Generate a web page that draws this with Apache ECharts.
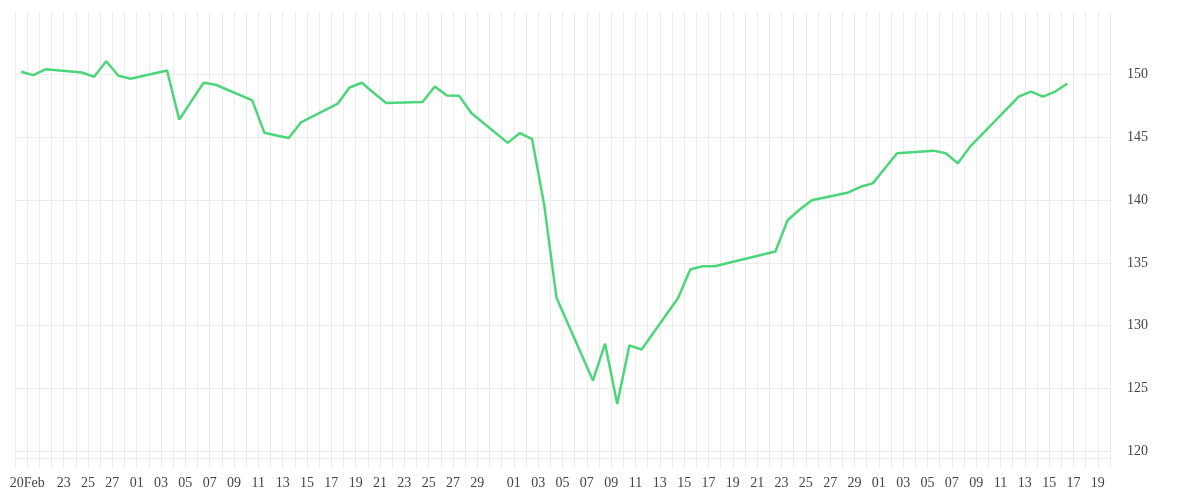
<!DOCTYPE html>
<html>
<head>
<meta charset="utf-8">
<script src="https://cdn.jsdelivr.net/npm/echarts@6/dist/echarts.min.js"></script>
<style>
html, body { margin: 0; padding: 0; background: #ffffff; }
#chart { width: 1200px; height: 500px; }
</style>
</head>
<body>
<div id="chart"></div>
<script>
// Axis calendar (one grid column per day)
const axisStart = '02-19';
const axisEnd = '05-20';

// Trading days (month-day) and closing values
const dates = [
  '02-19','02-20','02-21','02-24','02-25','02-26','02-27','02-28',
  '03-03','03-04','03-05','03-06','03-07',
  '03-10','03-11','03-12','03-13','03-14',
  '03-17','03-18','03-19','03-20','03-21',
  '03-24','03-25','03-26','03-27','03-28',
  '03-31','04-01','04-02','04-03','04-04',
  '04-07','04-08','04-09','04-10','04-11',
  '04-14','04-15','04-16','04-17',
  '04-22','04-23','04-24','04-25',
  '04-28','04-29','04-30','05-01','05-02',
  '05-05','05-06','05-07','05-08',
  '05-12','05-13','05-14','05-15','05-16'
];
const prices = [
  150.24, 149.97, 150.43, 150.18, 149.84, 151.07, 149.92, 149.68,
  150.34, 146.42, 147.90, 149.36, 149.20,
  147.96, 145.37, 145.15, 144.95, 146.20,
  147.67, 148.98, 149.36, 148.55, 147.75,
  147.83, 149.06, 148.34, 148.32, 146.95,
  144.57, 145.35, 144.87, 139.60, 132.25,
  125.62, 128.56, 123.75, 128.43, 128.10,
  132.20, 134.47, 134.73, 134.73,
  135.91, 138.40, 139.26, 140.00,
  140.62, 141.07, 141.34, 142.54, 143.74,
  143.95, 143.74, 142.94, 144.27,
  148.26, 148.66, 148.26, 148.66, 149.30
];

// X tick labels
const tickDates = [
  '02-20','02-23','02-25','02-27',
  '03-01','03-03','03-05','03-07','03-09','03-11','03-13','03-15','03-17','03-19','03-21','03-23','03-25','03-27','03-29',
  '04-01','04-03','04-05','04-07','04-09','04-11','04-13','04-15','04-17','04-19','04-21','04-23','04-25','04-27','04-29',
  '05-01','05-03','05-05','05-07','05-09','05-11','05-13','05-15','05-17','05-19'
];
const tickLabels = [
  '20Feb','23','25','27',
  '01','03','05','07','09','11','13','15','17','19','21','23','25','27','29',
  '01','03','05','07','09','11','13','15','17','19','21','23','25','27','29',
  '01','03','05','07','09','11','13','15','17','19'
];

// Y axis range
const yMin = 119.45;
const yMax = 155;

function dayIndex(md) {
  const p = md.split('-').map(Number);
  const s = axisStart.split('-').map(Number);
  return Math.round((Date.UTC(2019, p[0] - 1, p[1]) - Date.UTC(2019, s[0] - 1, s[1])) / 86400000);
}

const labelMap = {};
tickDates.forEach((d, i) => { labelMap[dayIndex(d)] = tickLabels[i]; });

// each value is plotted at midday of its date
const seriesData = dates.map((d, i) => [dayIndex(d) + 0.5, prices[i]]);

const gridColor = '#ececec';
const font = 'Liberation Serif';

const chart = echarts.init(document.getElementById('chart'));
chart.setOption({
  animation: false,
  backgroundColor: '#ffffff',
  grid: { left: 15, right: 90, top: 12, bottom: 42, containLabel: false },
  xAxis: {
    type: 'value',
    min: 0,
    max: dayIndex(axisEnd),
    interval: 1,
    axisLine: { show: true, lineStyle: { color: gridColor, width: 1 } },
    axisTick: { show: true, length: 10, lineStyle: { color: gridColor, width: 1 } },
    splitLine: { show: true, lineStyle: { color: gridColor, width: 1 } },
    axisLabel: {
      show: true,
      margin: 18,
      fontFamily: font,
      fontSize: 14,
      color: '#444444',
      hideOverlap: false,
      showMinLabel: true,
      showMaxLabel: true,
      formatter: function (v) { return labelMap[Math.round(v)] || ''; }
    }
  },
  yAxis: {
    type: 'value',
    position: 'right',
    min: yMin,
    max: yMax,
    splitNumber: 7,
    scale: true,
    axisLine: { show: false },
    axisTick: { show: false },
    splitLine: { show: true, showMaxLine: false, lineStyle: { color: gridColor, width: 1 } },
    axisLabel: {
      margin: 17,
      fontFamily: font,
      fontSize: 14,
      color: '#444444',
      padding: [4, 0, 0, 0],
      showMinLabel: false,
      showMaxLabel: false
    }
  },
  series: [{
    type: 'line',
    data: seriesData,
    showSymbol: false,
    symbol: 'none',
    lineStyle: { color: '#4cd67a', width: 2.5 },
    itemStyle: { color: '#4cd67a' }
  }]
});
</script>
</body>
</html>
